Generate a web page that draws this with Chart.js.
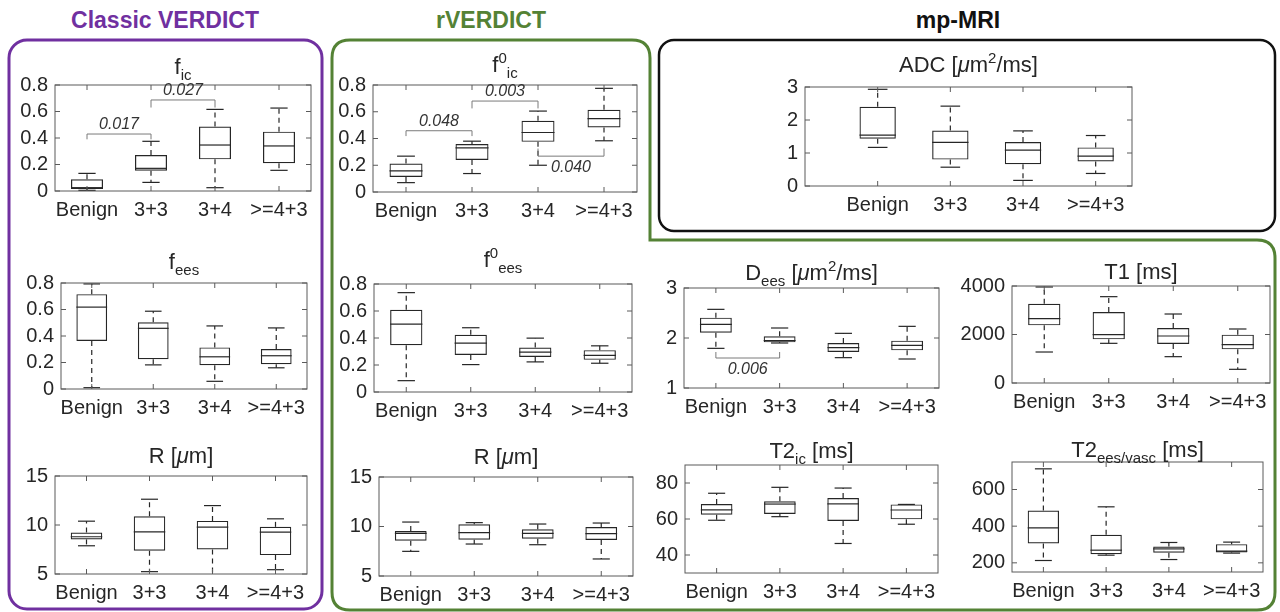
<!DOCTYPE html>
<html>
<head>
<meta charset="utf-8">
<script src="https://cdn.jsdelivr.net/npm/chart.js@4.4.1/dist/chart.umd.min.js"></script>
<style>
  html, body { margin: 0; padding: 0; background: #fff; width: 1280px; height: 612px; overflow: hidden; }
  #stage { position: relative; width: 1280px; height: 612px; }
  #stage canvas { position: absolute; }
  #frames { position: absolute; left: 0; top: 0; }
</style>
</head>
<body>
<div id="stage">
  <svg id="frames" width="1280" height="612" xmlns="http://www.w3.org/2000/svg">
    <!-- Classic VERDICT group -->
    <rect x="9" y="40" width="313" height="569" rx="18" ry="18" fill="none" stroke="#7030a0" stroke-width="3"/>
    <!-- rVERDICT group (L-shaped, wraps the lower right panels) -->
    <path d="M 332 592 L 332 58 Q 332 40 350 40 L 632 40 Q 650 40 650 58 L 650 240 L 1257 240 Q 1275 240 1275 258 L 1275 592 Q 1275 610 1257 610 L 350 610 Q 332 610 332 592 Z"
          fill="none" stroke="#548235" stroke-width="3"/>
    <!-- mp-MRI group -->
    <rect x="659" y="40" width="616" height="191" rx="15" ry="15" fill="none" stroke="#111" stroke-width="2.5"/>
    <text x="165" y="28" text-anchor="middle" font-family="Liberation Sans, Arial, sans-serif" font-weight="bold" font-size="23" fill="#7030a0">Classic VERDICT</text>
    <text x="491" y="28" text-anchor="middle" font-family="Liberation Sans, Arial, sans-serif" font-weight="bold" font-size="23" fill="#548235">rVERDICT</text>
    <text x="958" y="28" text-anchor="middle" font-family="Liberation Sans, Arial, sans-serif" font-weight="bold" font-size="23" fill="#111">mp-MRI</text>
  </svg>
</div>
<script>
// Gleason groups on every x axis
const categories = ['Benign', '3+3', '3+4', '>=4+3'];

// Box statistics per map: lower whisker, Q1, median, Q3, upper whisker
// Classic VERDICT f_ic
const ficLow  = [0.005, 0.065, 0.025, 0.156];
const ficQ1   = [0.015, 0.153, 0.239, 0.209];
const ficMed  = [0.025, 0.171, 0.347, 0.340];
const ficQ3   = [0.088, 0.272, 0.486, 0.448];
const ficHigh = [0.133, 0.375, 0.616, 0.626];
// Classic VERDICT f_ees
const feesLow  = [0.010, 0.182, 0.058, 0.160];
const feesQ1   = [0.362, 0.225, 0.180, 0.187];
const feesMed  = [0.618, 0.458, 0.243, 0.251];
const feesQ3   = [0.716, 0.504, 0.314, 0.301];
const feesHigh = [0.793, 0.587, 0.476, 0.461];
// Classic VERDICT R
const rcLow  = [7.88, 5.24, 4.70, 5.44];
const rcQ1   = [8.53, 7.37, 7.50, 6.93];
const rcMed  = [8.80, 9.30, 9.78, 9.27];
const rcQ3   = [9.24, 10.90, 10.42, 9.81];
const rcHigh = [10.39, 12.63, 11.98, 10.63];
// rVERDICT f0_ic
const f0icLow  = [0.070, 0.138, 0.200, 0.383];
const f0icQ1   = [0.113, 0.240, 0.375, 0.483];
const f0icMed  = [0.158, 0.330, 0.445, 0.548];
const f0icQ3   = [0.213, 0.358, 0.533, 0.615];
const f0icHigh = [0.268, 0.380, 0.605, 0.775];
// rVERDICT f0_ees
const f0eesLow  = [0.084, 0.203, 0.223, 0.213];
const f0eesQ1   = [0.347, 0.275, 0.260, 0.238];
const f0eesMed  = [0.503, 0.362, 0.295, 0.272];
const f0eesQ3   = [0.609, 0.424, 0.329, 0.310];
const f0eesHigh = [0.736, 0.476, 0.399, 0.342];
// rVERDICT R
const rrLow  = [7.49, 8.23, 8.16, 6.72];
const rrQ1   = [8.57, 8.67, 8.77, 8.64];
const rrMed  = [9.31, 9.38, 9.31, 9.28];
const rrQ3   = [9.55, 10.22, 9.71, 9.95];
const rrHigh = [10.45, 10.39, 10.25, 10.35];
// mp-MRI ADC
const adcLow  = [1.17, 0.57, 0.17, 0.38];
const adcQ1   = [1.43, 0.80, 0.66, 0.745];
const adcMed  = [1.54, 1.32, 1.09, 0.906];
const adcQ3   = [2.40, 1.68, 1.33, 1.17];
const adcHigh = [2.93, 2.42, 1.67, 1.53];
// rVERDICT D_ees
const deesLow  = [1.793, 1.900, 1.607, 1.580];
const deesQ1   = [2.107, 1.913, 1.720, 1.753];
const deesMed  = [2.273, 1.950, 1.807, 1.853];
const deesQ3   = [2.407, 2.033, 1.900, 1.947];
const deesHigh = [2.573, 2.200, 2.093, 2.233];
// rVERDICT T1
const t1Low  = [1278, 1636, 1086, 564];
const t1Q1   = [2378, 1801, 1608, 1388];
const t1Med  = [2653, 1993, 1938, 1581];
const t1Q3   = [3271, 2928, 2268, 1993];
const t1High = [3959, 3560, 2845, 2227];
// rVERDICT T2_ic
const t2icLow  = [59.3, 61.3, 46.4, 57.1];
const t2icQ1   = [62.4, 62.8, 58.9, 59.8];
const t2icMed  = [65.1, 68.3, 68.4, 65.0];
const t2icQ3   = [68.3, 69.9, 71.7, 68.1];
const t2icHigh = [74.3, 77.6, 77.2, 68.1];
// rVERDICT T2_ees/vasc
const t2eesLow  = [212.7, 241.8, 218, 253];
const t2eesQ1   = [305.5, 247.0, 255, 256.4];
const t2eesMed  = [391.0, 269.0, 276, 264];
const t2eesQ3   = [485.5, 352.7, 289, 302];
const t2eesHigh = [712.7, 505.5, 311, 313];

// Y tick labels
const fracTicks = [0, 0.2, 0.4, 0.6, 0.8];
const radiusTicks = [5, 10, 15];
const adcTicks = [0, 1, 2, 3];
const deesTicks = [1, 2, 3];
const t1Ticks = [0, 2000, 4000];
const t2icTicks = [40, 60, 80];
const t2eesTicks = [200, 400, 600];

// Significance brackets: [group a, group b, bracket level, leg end, p-value]
const ficPairs  = [[1, 2, 0.430, 0.390, '0.017'], [2, 3, 0.687, 0.630, '0.027']];
const f0icPairs = [[1, 2, 0.458, 0.418, '0.048'], [2, 3, 0.680, 0.625, '0.003'], [3, 4, 0.268, 0.325, '0.040']];
const deesPairs = [[1, 2, 1.600, 1.720, '0.006']];

// Panel titles as [text, style] runs
const ficTitle   = [['f'], ['ic', 'sub']];
const feesTitle  = [['f'], ['ees', 'sub']];
const rTitle     = [['R ['], ['\u03bc', 'it'], ['m]']];
const f0icTitle  = [['f'], ['0', 'sup'], ['ic', 'sub']];
const f0eesTitle = [['f'], ['0', 'sup'], ['ees', 'sub']];
const adcTitle   = [['ADC ['], ['\u03bc', 'it'], ['m'], ['2', 'sup'], ['/ms]']];
const deesTitle  = [['D'], ['ees', 'sub'], [' ['], ['\u03bc', 'it'], ['m'], ['2', 'sup'], ['/ms]']];
const t1Title    = [['T1 [ms]']];
const t2icTitle  = [['T2'], ['ic', 'sub'], [' [ms]']];
const t2eesTitle = [['T2'], ['ees/vasc', 'sub'], [' [ms]']];

const FONT = '"Liberation Sans", Arial, Helvetica, sans-serif';
const INK = '#262626';
const AXIS = '#5a5a5a';

// Plot-area rectangles on the page: [left, top, right, bottom]
const panels = [
  { id: 'fic',   rect: [55, 85, 311, 191],    xMin: 0.5, y: [0, 0.8],   ticks: fracTicks,   title: ficTitle,   gap: 11, stats: [ficLow, ficQ1, ficMed, ficQ3, ficHigh], pairs: ficPairs },
  { id: 'fees',  rect: [61, 283, 307, 389],   xMin: 0.5, y: [0, 0.8],   ticks: fracTicks,   title: feesTitle,  gap: 14, stats: [feesLow, feesQ1, feesMed, feesQ3, feesHigh], pairs: [] },
  { id: 'rc',    rect: [55, 476, 307, 574],   xMin: 0.5, y: [5, 15],    ticks: radiusTicks, title: rTitle,     gap: 13, stats: [rcLow, rcQ1, rcMed, rcQ3, rcHigh], pairs: [] },
  { id: 'f0ic',  rect: [373, 85, 637, 192],   xMin: 0.5, y: [0, 0.8],   ticks: fracTicks,   title: f0icTitle,  gap: 13, stats: [f0icLow, f0icQ1, f0icMed, f0icQ3, f0icHigh], pairs: f0icPairs },
  { id: 'f0ees', rect: [374, 284, 632, 392],  xMin: 0.5, y: [0, 0.8],   ticks: fracTicks,   title: f0eesTitle, gap: 17, stats: [f0eesLow, f0eesQ1, f0eesMed, f0eesQ3, f0eesHigh], pairs: [] },
  { id: 'rr',    rect: [379, 477, 633, 576],  xMin: 0.5, y: [5, 15],    ticks: radiusTicks, title: rTitle,     gap: 13, stats: [rrLow, rrQ1, rrMed, rrQ3, rrHigh], pairs: [] },
  { id: 'adc',   rect: [805, 87, 1132, 186],  xMin: 0,   y: [0, 3],     ticks: adcTicks,    title: adcTitle,   gap: 15, stats: [adcLow, adcQ1, adcMed, adcQ3, adcHigh], pairs: [] },
  { id: 'dees',  rect: [684, 288, 939, 388],  xMin: 0.5, y: [1, 3],     ticks: deesTicks,   title: deesTitle,  gap: 8,  stats: [deesLow, deesQ1, deesMed, deesQ3, deesHigh], pairs: deesPairs },
  { id: 't1',    rect: [1012, 286, 1270, 383], xMin: 0.5, y: [0, 4000], ticks: t1Ticks,     title: t1Title,    gap: 7,  stats: [t1Low, t1Q1, t1Med, t1Q3, t1High], pairs: [] },
  { id: 't2ic',  rect: [685, 465, 938, 573],  xMin: 0.5, y: [30, 90],   ticks: t2icTicks,   title: t2icTitle,  gap: 7,  stats: [t2icLow, t2icQ1, t2icMed, t2icQ3, t2icHigh], pairs: [] },
  { id: 't2ees', rect: [1012, 462, 1263, 572], xMin: 0.5, y: [150, 750], ticks: t2eesTicks, title: t2eesTitle, gap: 5,  stats: [t2eesLow, t2eesQ1, t2eesMed, t2eesQ3, t2eesHigh], pairs: [] }
];

// Margins around each plot area inside its canvas
const PAD_L = 70, PAD_T = 50, PAD_R = 40, PAD_B = 45;

function seg(ctx, x1, y1, x2, y2) {
  ctx.beginPath();
  ctx.moveTo(x1, y1);
  ctx.lineTo(x2, y2);
  ctx.stroke();
}

function runFont(style) {
  if (style === 'sub' || style === 'sup') return `15px ${FONT}`;
  if (style === 'it') return `italic 22px ${FONT}`;
  return `22px ${FONT}`;
}

// Whiskers, medians, axes box, inward ticks, brackets and title
function boxplotPlugin(p) {
  return {
    id: 'boxplot_' + p.id,
    afterDatasetsDraw(chart) {
      const { ctx, chartArea: a } = chart;
      const xs = chart.scales.x, ys = chart.scales.y;
      const [lo, q1, med, q3, hi] = p.stats;
      const unit = xs.getPixelForValue(2) - xs.getPixelForValue(1);
      const capHalf = unit * 0.135, boxHalf = unit * 0.25;

      ctx.save();
      ctx.beginPath();
      ctx.rect(a.left, a.top, a.right - a.left, a.bottom - a.top);
      ctx.clip();
      ctx.strokeStyle = INK;
      ctx.lineWidth = 1.2;
      lo.forEach((_, i) => {
        const cx = xs.getPixelForValue(i + 1);
        const yHi = ys.getPixelForValue(hi[i]), yQ3 = ys.getPixelForValue(q3[i]);
        const yLo = ys.getPixelForValue(lo[i]), yQ1 = ys.getPixelForValue(q1[i]);
        const yMed = ys.getPixelForValue(med[i]);
        ctx.setLineDash([5, 4]);
        seg(ctx, cx, yQ3, cx, yHi);
        seg(ctx, cx, yQ1, cx, yLo);
        ctx.setLineDash([]);
        seg(ctx, cx - capHalf, yHi, cx + capHalf, yHi);
        seg(ctx, cx - capHalf, yLo, cx + capHalf, yLo);
        seg(ctx, cx - boxHalf, yMed, cx + boxHalf, yMed);
      });
      ctx.restore();

      // axes box with inward ticks on all four sides
      ctx.save();
      ctx.strokeStyle = AXIS;
      ctx.lineWidth = 1;
      ctx.strokeRect(a.left, a.top, a.right - a.left, a.bottom - a.top);
      const tl = 5;
      xs.ticks.forEach(t => {
        const px = xs.getPixelForValue(t.value);
        seg(ctx, px, a.bottom, px, a.bottom - tl);
        seg(ctx, px, a.top, px, a.top + tl);
      });
      ys.ticks.forEach(t => {
        const py = ys.getPixelForValue(t.value);
        seg(ctx, a.left, py, a.left + tl, py);
        seg(ctx, a.right, py, a.right - tl, py);
      });
      ctx.restore();

      // significance brackets
      ctx.save();
      ctx.strokeStyle = '#7a7a7a';
      ctx.lineWidth = 1;
      ctx.fillStyle = '#333';
      ctx.font = `italic 16px ${FONT}`;
      ctx.textAlign = 'center';
      ctx.textBaseline = 'alphabetic';
      p.pairs.forEach(([ga, gb, level, leg, txt]) => {
        const xa = xs.getPixelForValue(ga), xb = xs.getPixelForValue(gb);
        const yl = ys.getPixelForValue(level), yg = ys.getPixelForValue(leg);
        ctx.beginPath();
        ctx.moveTo(xa, yg);
        ctx.lineTo(xa, yl);
        ctx.lineTo(xb, yl);
        ctx.lineTo(xb, yg);
        ctx.stroke();
        const above = leg < level;
        ctx.fillText(txt, (xa + xb) / 2, above ? yl - 5 : yl + 16);
      });
      ctx.restore();
    },
    afterDraw(chart) {
      const { ctx, chartArea: a } = chart;
      ctx.save();
      ctx.fillStyle = INK;
      ctx.textBaseline = 'alphabetic';
      ctx.textAlign = 'left';
      let total = 0;
      const widths = p.title.map(([t, s]) => {
        ctx.font = runFont(s);
        const w = ctx.measureText(t).width;
        total += w;
        return w;
      });
      let x = (a.left + a.right) / 2 - total / 2;
      const base = a.top - p.gap;
      p.title.forEach(([t, s], i) => {
        ctx.font = runFont(s);
        const dy = s === 'sub' ? 6 : (s === 'sup' ? -9 : 0);
        ctx.fillText(t, x, base + dy);
        x += widths[i];
      });
      ctx.restore();
    }
  };
}

const stage = document.getElementById('stage');

panels.forEach(p => {
  const [l, t, r, b] = p.rect;
  const W = (r - l) + PAD_L + PAD_R;
  const H = (b - t) + PAD_T + PAD_B;
  const canvas = document.createElement('canvas');
  canvas.width = W;
  canvas.height = H;
  canvas.style.width = W + 'px';
  canvas.style.height = H + 'px';
  canvas.style.left = (l - PAD_L) + 'px';
  canvas.style.top = (t - PAD_T) + 'px';
  stage.appendChild(canvas);

  const [lo, q1, med, q3, hi] = p.stats;

  new Chart(canvas.getContext('2d'), {
    type: 'bar',
    data: {
      datasets: [{
        data: categories.map((c, i) => ({ x: i + 1, y: [q1[i], q3[i]] })),
        backgroundColor: 'rgba(255,255,255,0)',
        borderColor: INK,
        borderWidth: 1.2,
        borderSkipped: false,
        categoryPercentage: 1,
        barPercentage: 0.5
      }]
    },
    options: {
      responsive: false,
      animation: false,
      devicePixelRatio: 1,
      events: [],
      layout: { padding: { top: PAD_T, right: PAD_R, left: 0, bottom: 0 } },
      plugins: { legend: { display: false }, tooltip: { enabled: false }, title: { display: false } },
      scales: {
        x: {
          type: 'linear',
          min: p.xMin,
          max: 4.5,
          offset: false,
          grid: { display: false, drawTicks: false },
          border: { display: false },
          afterBuildTicks: s => { s.ticks = categories.map((c, i) => ({ value: i + 1 })); },
          afterFit: s => { s.height = PAD_B; },
          ticks: {
            callback: v => categories[Math.round(v) - 1],
            autoSkip: false,
            maxRotation: 0,
            minRotation: 0,
            padding: 7,
            color: INK,
            font: { family: FONT, size: 20 }
          }
        },
        y: {
          type: 'linear',
          min: p.y[0],
          max: p.y[1],
          grid: { display: false, drawTicks: false },
          border: { display: false },
          afterBuildTicks: s => { s.ticks = p.ticks.map(v => ({ value: v })); },
          afterFit: s => { s.width = PAD_L; },
          ticks: {
            callback: v => String(v),
            autoSkip: false,
            padding: 7,
            color: INK,
            font: { family: FONT, size: 20 }
          }
        }
      }
    },
    plugins: [boxplotPlugin(p)]
  });
});
</script>
</body>
</html>
